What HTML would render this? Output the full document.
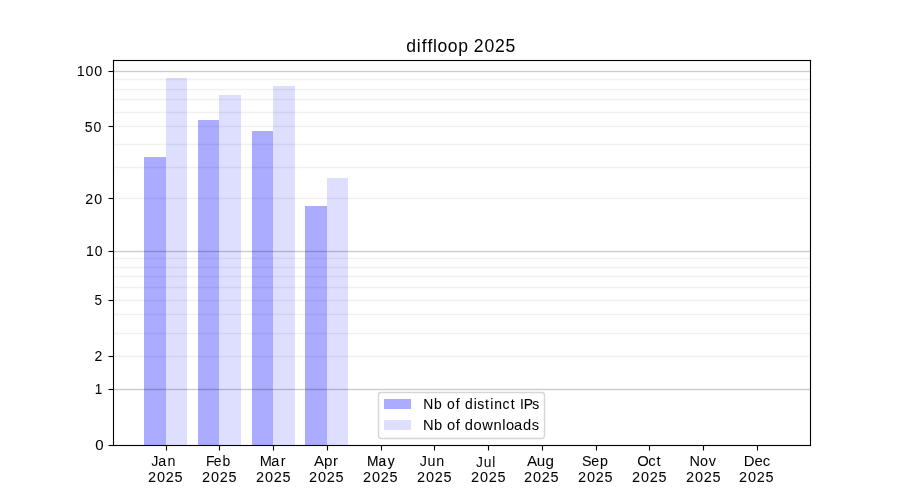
<!DOCTYPE html>
<html lang="en"><head><meta charset="utf-8"><title>diffloop 2025</title>
<style>
html,body{margin:0;padding:0;background:#ffffff;}
body{width:900px;height:500px;overflow:hidden;font-family:"Liberation Sans",sans-serif;}
svg{display:block;position:absolute;left:0;top:0;}
svg text{font-family:"Liberation Sans",sans-serif;font-size:10px;fill:#000000;white-space:pre;}
.cr{shape-rendering:crispEdges;}
</style></head><body>
<svg width="900" height="500" viewBox="0 0 900 500">
<rect class="cr" x="0" y="0" width="900" height="500" fill="#ffffff"/>
<g class="cr" id="bars">
<rect x="144" y="157" width="22" height="288" fill="#ababff"/>
<rect x="166" y="78" width="21" height="367" fill="#dedeff"/>
<rect x="198" y="120" width="21" height="325" fill="#ababff"/>
<rect x="219" y="95" width="22" height="350" fill="#dedeff"/>
<rect x="252" y="131" width="21" height="314" fill="#ababff"/>
<rect x="273" y="86" width="22" height="359" fill="#dedeff"/>
<rect x="305" y="206" width="22" height="239" fill="#ababff"/>
<rect x="327" y="178" width="21" height="267" fill="#dedeff"/>
</g>
<g class="cr" id="grid" fill="#000000">
<rect x="113" y="70" width="698" height="1" fill-opacity="0.04"/>
<rect x="113" y="71" width="698" height="1" fill-opacity="0.2"/>
<rect x="113" y="72" width="698" height="1" fill-opacity="0.04"/>
<rect x="113" y="250" width="698" height="1" fill-opacity="0.04"/>
<rect x="113" y="251" width="698" height="1" fill-opacity="0.2"/>
<rect x="113" y="252" width="698" height="1" fill-opacity="0.04"/>
<rect x="113" y="388" width="698" height="1" fill-opacity="0.04"/>
<rect x="113" y="389" width="698" height="1" fill-opacity="0.2"/>
<rect x="113" y="390" width="698" height="1" fill-opacity="0.04"/>
<rect x="113" y="78" width="698" height="1" fill-opacity="0.012"/>
<rect x="113" y="79" width="698" height="1" fill-opacity="0.06"/>
<rect x="113" y="80" width="698" height="1" fill-opacity="0.012"/>
<rect x="113" y="88" width="698" height="1" fill-opacity="0.012"/>
<rect x="113" y="89" width="698" height="1" fill-opacity="0.06"/>
<rect x="113" y="90" width="698" height="1" fill-opacity="0.012"/>
<rect x="113" y="98" width="698" height="1" fill-opacity="0.012"/>
<rect x="113" y="99" width="698" height="1" fill-opacity="0.06"/>
<rect x="113" y="100" width="698" height="1" fill-opacity="0.012"/>
<rect x="113" y="111" width="698" height="1" fill-opacity="0.012"/>
<rect x="113" y="112" width="698" height="1" fill-opacity="0.06"/>
<rect x="113" y="113" width="698" height="1" fill-opacity="0.012"/>
<rect x="113" y="125" width="698" height="1" fill-opacity="0.012"/>
<rect x="113" y="126" width="698" height="1" fill-opacity="0.06"/>
<rect x="113" y="127" width="698" height="1" fill-opacity="0.012"/>
<rect x="113" y="143" width="698" height="1" fill-opacity="0.012"/>
<rect x="113" y="144" width="698" height="1" fill-opacity="0.06"/>
<rect x="113" y="145" width="698" height="1" fill-opacity="0.012"/>
<rect x="113" y="166" width="698" height="1" fill-opacity="0.012"/>
<rect x="113" y="167" width="698" height="1" fill-opacity="0.06"/>
<rect x="113" y="168" width="698" height="1" fill-opacity="0.012"/>
<rect x="113" y="197" width="698" height="1" fill-opacity="0.012"/>
<rect x="113" y="198" width="698" height="1" fill-opacity="0.06"/>
<rect x="113" y="199" width="698" height="1" fill-opacity="0.012"/>
<rect x="113" y="257" width="698" height="1" fill-opacity="0.012"/>
<rect x="113" y="258" width="698" height="1" fill-opacity="0.06"/>
<rect x="113" y="259" width="698" height="1" fill-opacity="0.012"/>
<rect x="113" y="266" width="698" height="1" fill-opacity="0.012"/>
<rect x="113" y="267" width="698" height="1" fill-opacity="0.06"/>
<rect x="113" y="268" width="698" height="1" fill-opacity="0.012"/>
<rect x="113" y="275" width="698" height="1" fill-opacity="0.012"/>
<rect x="113" y="276" width="698" height="1" fill-opacity="0.06"/>
<rect x="113" y="277" width="698" height="1" fill-opacity="0.012"/>
<rect x="113" y="286" width="698" height="1" fill-opacity="0.012"/>
<rect x="113" y="287" width="698" height="1" fill-opacity="0.06"/>
<rect x="113" y="288" width="698" height="1" fill-opacity="0.012"/>
<rect x="113" y="299" width="698" height="1" fill-opacity="0.012"/>
<rect x="113" y="300" width="698" height="1" fill-opacity="0.06"/>
<rect x="113" y="301" width="698" height="1" fill-opacity="0.012"/>
<rect x="113" y="313" width="698" height="1" fill-opacity="0.012"/>
<rect x="113" y="314" width="698" height="1" fill-opacity="0.06"/>
<rect x="113" y="315" width="698" height="1" fill-opacity="0.012"/>
<rect x="113" y="332" width="698" height="1" fill-opacity="0.012"/>
<rect x="113" y="333" width="698" height="1" fill-opacity="0.06"/>
<rect x="113" y="334" width="698" height="1" fill-opacity="0.012"/>
<rect x="113" y="355" width="698" height="1" fill-opacity="0.012"/>
<rect x="113" y="356" width="698" height="1" fill-opacity="0.06"/>
<rect x="113" y="357" width="698" height="1" fill-opacity="0.012"/>
</g>
<g class="cr" id="ticks" fill="#000000">
<rect x="165" y="446" width="1" height="4" fill-opacity="0.055"/>
<rect x="165" y="450" width="1" height="1" fill-opacity="0.0275"/>
<rect x="167" y="446" width="1" height="4" fill-opacity="0.055"/>
<rect x="167" y="450" width="1" height="1" fill-opacity="0.0275"/>
<rect x="166" y="445" width="1" height="5"/>
<rect x="166" y="450" width="1" height="1" fill-opacity="0.5"/>
<rect x="218" y="446" width="1" height="4" fill-opacity="0.055"/>
<rect x="218" y="450" width="1" height="1" fill-opacity="0.0275"/>
<rect x="220" y="446" width="1" height="4" fill-opacity="0.055"/>
<rect x="220" y="450" width="1" height="1" fill-opacity="0.0275"/>
<rect x="219" y="445" width="1" height="5"/>
<rect x="219" y="450" width="1" height="1" fill-opacity="0.5"/>
<rect x="272" y="446" width="1" height="4" fill-opacity="0.055"/>
<rect x="272" y="450" width="1" height="1" fill-opacity="0.0275"/>
<rect x="274" y="446" width="1" height="4" fill-opacity="0.055"/>
<rect x="274" y="450" width="1" height="1" fill-opacity="0.0275"/>
<rect x="273" y="445" width="1" height="5"/>
<rect x="273" y="450" width="1" height="1" fill-opacity="0.5"/>
<rect x="326" y="446" width="1" height="4" fill-opacity="0.055"/>
<rect x="326" y="450" width="1" height="1" fill-opacity="0.0275"/>
<rect x="328" y="446" width="1" height="4" fill-opacity="0.055"/>
<rect x="328" y="450" width="1" height="1" fill-opacity="0.0275"/>
<rect x="327" y="445" width="1" height="5"/>
<rect x="327" y="450" width="1" height="1" fill-opacity="0.5"/>
<rect x="380" y="446" width="1" height="4" fill-opacity="0.055"/>
<rect x="380" y="450" width="1" height="1" fill-opacity="0.0275"/>
<rect x="382" y="446" width="1" height="4" fill-opacity="0.055"/>
<rect x="382" y="450" width="1" height="1" fill-opacity="0.0275"/>
<rect x="381" y="445" width="1" height="5"/>
<rect x="381" y="450" width="1" height="1" fill-opacity="0.5"/>
<rect x="433" y="446" width="1" height="4" fill-opacity="0.055"/>
<rect x="433" y="450" width="1" height="1" fill-opacity="0.0275"/>
<rect x="435" y="446" width="1" height="4" fill-opacity="0.055"/>
<rect x="435" y="450" width="1" height="1" fill-opacity="0.0275"/>
<rect x="434" y="445" width="1" height="5"/>
<rect x="434" y="450" width="1" height="1" fill-opacity="0.5"/>
<rect x="487" y="446" width="1" height="4" fill-opacity="0.055"/>
<rect x="487" y="450" width="1" height="1" fill-opacity="0.0275"/>
<rect x="489" y="446" width="1" height="4" fill-opacity="0.055"/>
<rect x="489" y="450" width="1" height="1" fill-opacity="0.0275"/>
<rect x="488" y="445" width="1" height="5"/>
<rect x="488" y="450" width="1" height="1" fill-opacity="0.5"/>
<rect x="541" y="446" width="1" height="4" fill-opacity="0.055"/>
<rect x="541" y="450" width="1" height="1" fill-opacity="0.0275"/>
<rect x="543" y="446" width="1" height="4" fill-opacity="0.055"/>
<rect x="543" y="450" width="1" height="1" fill-opacity="0.0275"/>
<rect x="542" y="445" width="1" height="5"/>
<rect x="542" y="450" width="1" height="1" fill-opacity="0.5"/>
<rect x="595" y="446" width="1" height="4" fill-opacity="0.055"/>
<rect x="595" y="450" width="1" height="1" fill-opacity="0.0275"/>
<rect x="597" y="446" width="1" height="4" fill-opacity="0.055"/>
<rect x="597" y="450" width="1" height="1" fill-opacity="0.0275"/>
<rect x="596" y="445" width="1" height="5"/>
<rect x="596" y="450" width="1" height="1" fill-opacity="0.5"/>
<rect x="648" y="446" width="1" height="4" fill-opacity="0.055"/>
<rect x="648" y="450" width="1" height="1" fill-opacity="0.0275"/>
<rect x="650" y="446" width="1" height="4" fill-opacity="0.055"/>
<rect x="650" y="450" width="1" height="1" fill-opacity="0.0275"/>
<rect x="649" y="445" width="1" height="5"/>
<rect x="649" y="450" width="1" height="1" fill-opacity="0.5"/>
<rect x="702" y="446" width="1" height="4" fill-opacity="0.055"/>
<rect x="702" y="450" width="1" height="1" fill-opacity="0.0275"/>
<rect x="704" y="446" width="1" height="4" fill-opacity="0.055"/>
<rect x="704" y="450" width="1" height="1" fill-opacity="0.0275"/>
<rect x="703" y="445" width="1" height="5"/>
<rect x="703" y="450" width="1" height="1" fill-opacity="0.5"/>
<rect x="756" y="446" width="1" height="4" fill-opacity="0.055"/>
<rect x="756" y="450" width="1" height="1" fill-opacity="0.0275"/>
<rect x="758" y="446" width="1" height="4" fill-opacity="0.055"/>
<rect x="758" y="450" width="1" height="1" fill-opacity="0.0275"/>
<rect x="757" y="445" width="1" height="5"/>
<rect x="757" y="450" width="1" height="1" fill-opacity="0.5"/>
<rect x="109" y="70" width="4" height="1" fill-opacity="0.055"/>
<rect x="108" y="70" width="1" height="1" fill-opacity="0.0275"/>
<rect x="109" y="72" width="4" height="1" fill-opacity="0.055"/>
<rect x="108" y="72" width="1" height="1" fill-opacity="0.0275"/>
<rect x="108" y="71" width="1" height="1" fill-opacity="0.5"/>
<rect x="109" y="71" width="5" height="1"/>
<rect x="109" y="125" width="4" height="1" fill-opacity="0.055"/>
<rect x="108" y="125" width="1" height="1" fill-opacity="0.0275"/>
<rect x="109" y="127" width="4" height="1" fill-opacity="0.055"/>
<rect x="108" y="127" width="1" height="1" fill-opacity="0.0275"/>
<rect x="108" y="126" width="1" height="1" fill-opacity="0.5"/>
<rect x="109" y="126" width="5" height="1"/>
<rect x="109" y="197" width="4" height="1" fill-opacity="0.055"/>
<rect x="108" y="197" width="1" height="1" fill-opacity="0.0275"/>
<rect x="109" y="199" width="4" height="1" fill-opacity="0.055"/>
<rect x="108" y="199" width="1" height="1" fill-opacity="0.0275"/>
<rect x="108" y="198" width="1" height="1" fill-opacity="0.5"/>
<rect x="109" y="198" width="5" height="1"/>
<rect x="109" y="250" width="4" height="1" fill-opacity="0.055"/>
<rect x="108" y="250" width="1" height="1" fill-opacity="0.0275"/>
<rect x="109" y="252" width="4" height="1" fill-opacity="0.055"/>
<rect x="108" y="252" width="1" height="1" fill-opacity="0.0275"/>
<rect x="108" y="251" width="1" height="1" fill-opacity="0.5"/>
<rect x="109" y="251" width="5" height="1"/>
<rect x="109" y="299" width="4" height="1" fill-opacity="0.055"/>
<rect x="108" y="299" width="1" height="1" fill-opacity="0.0275"/>
<rect x="109" y="301" width="4" height="1" fill-opacity="0.055"/>
<rect x="108" y="301" width="1" height="1" fill-opacity="0.0275"/>
<rect x="108" y="300" width="1" height="1" fill-opacity="0.5"/>
<rect x="109" y="300" width="5" height="1"/>
<rect x="109" y="355" width="4" height="1" fill-opacity="0.055"/>
<rect x="108" y="355" width="1" height="1" fill-opacity="0.0275"/>
<rect x="109" y="357" width="4" height="1" fill-opacity="0.055"/>
<rect x="108" y="357" width="1" height="1" fill-opacity="0.0275"/>
<rect x="108" y="356" width="1" height="1" fill-opacity="0.5"/>
<rect x="109" y="356" width="5" height="1"/>
<rect x="109" y="388" width="4" height="1" fill-opacity="0.055"/>
<rect x="108" y="388" width="1" height="1" fill-opacity="0.0275"/>
<rect x="109" y="390" width="4" height="1" fill-opacity="0.055"/>
<rect x="108" y="390" width="1" height="1" fill-opacity="0.0275"/>
<rect x="108" y="389" width="1" height="1" fill-opacity="0.5"/>
<rect x="109" y="389" width="5" height="1"/>
<rect x="109" y="444" width="4" height="1" fill-opacity="0.055"/>
<rect x="108" y="444" width="1" height="1" fill-opacity="0.0275"/>
<rect x="109" y="446" width="4" height="1" fill-opacity="0.055"/>
<rect x="108" y="446" width="1" height="1" fill-opacity="0.0275"/>
<rect x="108" y="445" width="1" height="1" fill-opacity="0.5"/>
<rect x="109" y="445" width="5" height="1"/>
</g>
<g class="cr" id="spines" fill="#000000">
<rect x="112" y="60" width="1" height="386" fill-opacity="0.055"/>
<rect x="113" y="59" width="1" height="1" fill-opacity="0.055"/>
<rect x="113" y="60" width="1" height="386"/>
<rect x="113" y="446" width="1" height="1" fill-opacity="0.055"/>
<rect x="114" y="60" width="1" height="386" fill-opacity="0.055"/>
<rect x="809" y="60" width="1" height="386" fill-opacity="0.055"/>
<rect x="810" y="59" width="1" height="1" fill-opacity="0.055"/>
<rect x="810" y="60" width="1" height="386"/>
<rect x="810" y="446" width="1" height="1" fill-opacity="0.055"/>
<rect x="811" y="60" width="1" height="386" fill-opacity="0.055"/>
<rect x="113" y="59" width="698" height="1" fill-opacity="0.055"/>
<rect x="112" y="60" width="1" height="1" fill-opacity="0.055"/>
<rect x="113" y="60" width="698" height="1"/>
<rect x="811" y="60" width="1" height="1" fill-opacity="0.055"/>
<rect x="113" y="61" width="698" height="1" fill-opacity="0.055"/>
<rect x="113" y="444" width="698" height="1" fill-opacity="0.055"/>
<rect x="112" y="445" width="1" height="1" fill-opacity="0.055"/>
<rect x="113" y="445" width="698" height="1"/>
<rect x="811" y="445" width="1" height="1" fill-opacity="0.055"/>
<rect x="113" y="446" width="698" height="1" fill-opacity="0.055"/>
</g>
<g id="legend">
<rect x="378.5" y="392.5" width="166" height="46" rx="2.8" ry="2.8" fill="#ffffff" fill-opacity="0.8" stroke="#d6d6d6" stroke-width="1.39"/>
<rect class="cr" x="384" y="399" width="27" height="10" fill="#ababff"/>
<rect class="cr" x="384" y="420" width="27" height="10" fill="#dedeff"/>
</g>
<g id="labels" opacity="0.999">
<text id="title" transform="matrix(1.7574 0 0 1.8800 405.880 51.500)" x="0.172 6.216 9.034 12.365 15.500 18.045 23.833 29.786 35.502 38.618 44.762 50.656 56.763" y="0" stroke="#000000" stroke-width="0.0165">diffloop 2025</text>
<text id="y100" transform="matrix(1.4236 0 0 1.4200 76.274 75.700)" x="0.272 6.521 12.722" y="0" stroke="#000000" stroke-width="0.0141">100</text>
<text id="y50" transform="matrix(1.4031 0 0 1.4800 84.228 131.700)" x="0.327 6.657" y="0" stroke="#000000" stroke-width="0.0278">50</text>
<text id="y20" transform="matrix(1.4183 0 0 1.5400 85.033 203.700)" x="0.203 6.556" y="0" stroke="#000000" stroke-width="0.0338">20</text>
<text id="y10" transform="matrix(1.4029 0 0 1.5400 85.524 255.700)" x="0.319 6.659" y="0" stroke="#000000" stroke-width="0.0204">10</text>
<text id="y5" transform="matrix(1.3517 0 0 1.3900 93.978 304.700)" x="0.445" y="0" stroke="#000000" stroke-width="0.0000">5</text>
<text id="y2" transform="matrix(1.4012 0 0 1.5200 94.283 360.700)" x="0.239" y="0" stroke="#000000" stroke-width="0.0343">2</text>
<text id="y1" transform="matrix(1.3483 0 0 1.4200 94.274 393.700)" x="0.450" y="0" stroke="#000000" stroke-width="0.0289">1</text>
<text id="y0" transform="matrix(1.5041 0 0 1.5400 95.134 449.700)" x="0.155" y="0" stroke="#000000" stroke-width="0.0526">0</text>
<text id="mJan" transform="matrix(1.4333 0 0 1.5200 154.519 466.290)" x="-2.351 2.682 9.098" y="0" stroke="#000000" stroke-width="0.0000">Jan</text>
<text id="yrJan" transform="matrix(1.4473 0 0 1.5100 147.783 481.700)" x="0.143 6.369 12.342 18.531" y="0" stroke="#000000" stroke-width="0.0338">2025</text>
<text id="mFeb" transform="matrix(1.3961 0 0 1.4800 206.187 466.300)" x="-0.204 5.478 11.738" y="0" stroke="#000000" stroke-width="0.0209">Feb</text>
<text id="yrFeb" transform="matrix(1.4473 0 0 1.5100 201.783 481.700)" x="0.143 6.369 12.342 18.531" y="0" stroke="#000000" stroke-width="0.0338">2025</text>
<text id="mMar" transform="matrix(1.4550 0 0 1.5400 259.687 466.420)" x="-0.045 8.013 14.553" y="0" stroke="#000000" stroke-width="0.0200">Mar</text>
<text id="yrMar" transform="matrix(1.4473 0 0 1.5100 255.783 481.700)" x="0.143 6.369 12.342 18.531" y="0" stroke="#000000" stroke-width="0.0338">2025</text>
<text id="mApr" transform="matrix(1.5158 0 0 1.4700 314.191 465.930)" x="-0.203 6.442 12.457" y="0" stroke="#000000" stroke-width="0.0000">Apr</text>
<text id="yrApr" transform="matrix(1.4473 0 0 1.5100 308.783 482.450)" x="0.143 6.369 12.342 18.531" y="0" stroke="#000000" stroke-width="0.0338">2025</text>
<text id="mMay" transform="matrix(1.3747 0 0 1.4800 366.687 466.050)" x="0.196 8.655 15.380" y="0" stroke="#000000" stroke-width="0.0981">May</text>
<text id="yrMay" transform="matrix(1.4473 0 0 1.5100 362.783 481.820)" x="0.143 6.369 12.342 18.531" y="0" stroke="#000000" stroke-width="0.0338">2025</text>
<text id="mJun" transform="matrix(1.4339 0 0 1.5200 423.019 466.300)" x="-2.352 3.121 9.296" y="0" stroke="#000000" stroke-width="0.0000">Jun</text>
<text id="yrJun" transform="matrix(1.4473 0 0 1.5100 416.783 481.700)" x="0.143 6.369 12.342 18.531" y="0" stroke="#000000" stroke-width="0.0338">2025</text>
<text id="mJul" transform="matrix(1.3786 0 0 1.5400 479.019 467.420)" x="-2.275 3.358 9.636" y="0" stroke="#000000" stroke-width="0.0000">Jul</text>
<text id="yrJul" transform="matrix(1.4473 0 0 1.5100 470.783 481.700)" x="0.143 6.369 12.342 18.531" y="0" stroke="#000000" stroke-width="0.0338">2025</text>
<text id="mAug" transform="matrix(1.5186 0 0 1.4700 527.191 465.800)" x="-0.209 6.348 12.113" y="0" stroke="#000000" stroke-width="0.0201">Aug</text>
<text id="yrAug" transform="matrix(1.4473 0 0 1.5100 523.783 481.700)" x="0.143 6.369 12.342 18.531" y="0" stroke="#000000" stroke-width="0.0338">2025</text>
<text id="mSep" transform="matrix(1.4225 0 0 1.5100 582.134 466.420)" x="-0.184 6.433 12.575" y="0" stroke="#000000" stroke-width="0.0478">Sep</text>
<text id="yrSep" transform="matrix(1.4473 0 0 1.5100 577.783 481.700)" x="0.143 6.369 12.342 18.531" y="0" stroke="#000000" stroke-width="0.0338">2025</text>
<text id="mOct" transform="matrix(1.4796 0 0 1.4200 637.400 466.300)" x="-0.193 7.349 12.962" y="0" stroke="#000000" stroke-width="0.0207">Oct</text>
<text id="yrOct" transform="matrix(1.4473 0 0 1.5100 631.783 481.700)" x="0.143 6.369 12.342 18.531" y="0" stroke="#000000" stroke-width="0.0338">2025</text>
<text id="mNov" transform="matrix(1.4454 0 0 1.5400 689.437 466.300)" x="-0.019 7.342 13.397" y="0" stroke="#000000" stroke-width="0.0201">Nov</text>
<text id="yrNov" transform="matrix(1.4473 0 0 1.5100 685.783 481.700)" x="0.143 6.369 12.342 18.531" y="0" stroke="#000000" stroke-width="0.0338">2025</text>
<text id="mDec" transform="matrix(1.4943 0 0 1.4800 743.687 466.050)" x="-0.022 7.247 12.805" y="0" stroke="#000000" stroke-width="0.0000">Dec</text>
<text id="yrDec" transform="matrix(1.4473 0 0 1.5100 738.783 481.700)" x="0.143 6.369 12.342 18.531" y="0" stroke="#000000" stroke-width="0.0338">2025</text>
<text id="leg1" transform="matrix(1.3892 0 0 1.5000 423.057 408.700)" x="0.126 7.932 13.811 17.266 23.599 26.613 30.114 36.410 39.075 44.653 48.305 51.207 57.261 63.165 66.535 69.795 72.508 78.671" y="0" stroke="#000000" stroke-width="0.0485">Nb of distinct IPs</text>
<text id="leg2" transform="matrix(1.4705 0 0 1.3800 423.187 429.700)" x="-0.081 7.333 13.048 16.158 22.213 25.141 28.302 34.241 40.149 47.852 53.801 56.332 61.750 67.937 73.793" y="0" stroke="#000000" stroke-width="0.0281">Nb of downloads</text>
</g>
</svg>
</body></html>
